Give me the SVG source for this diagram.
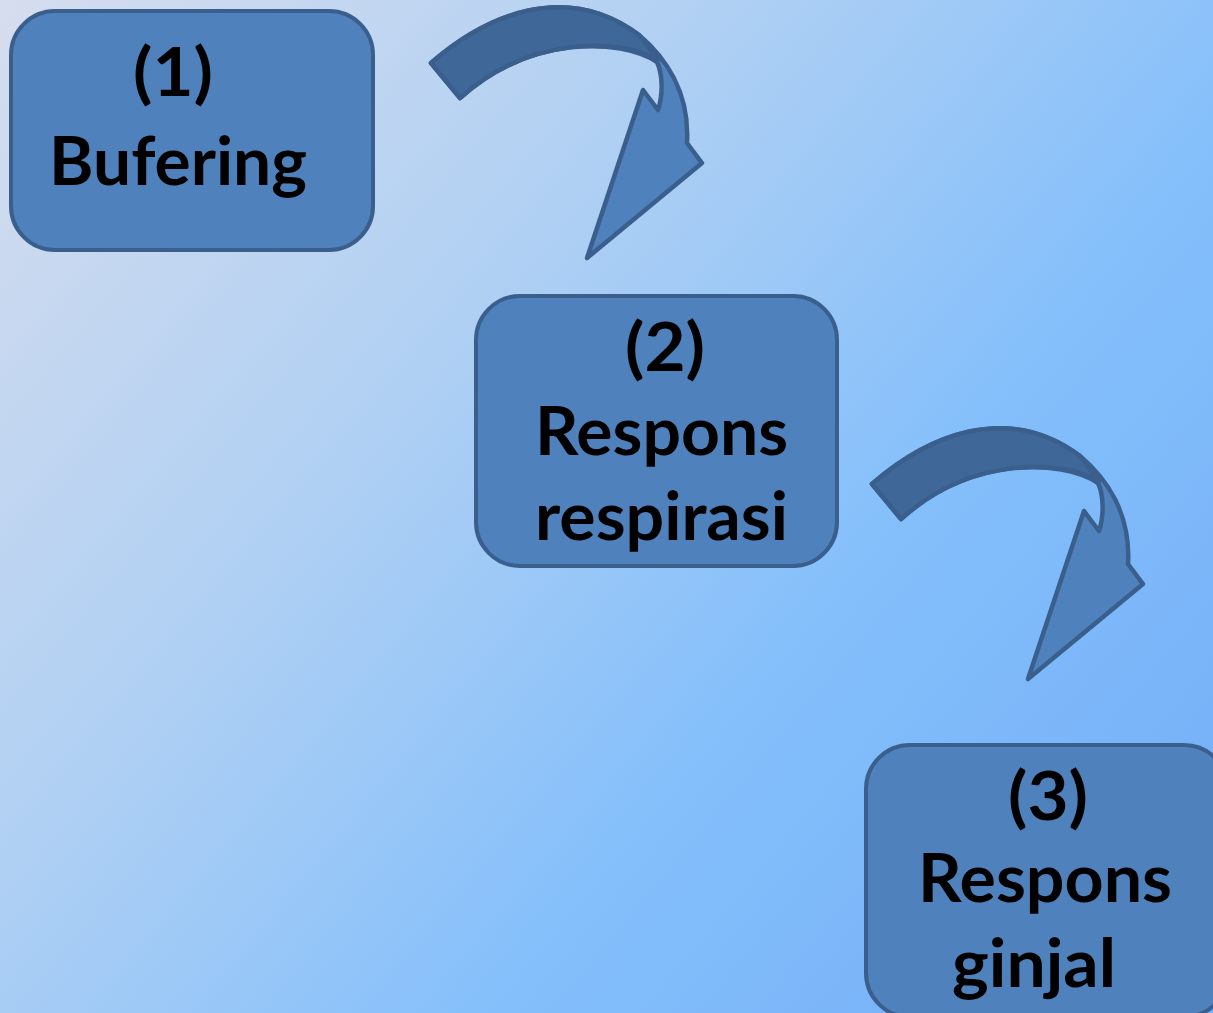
<svg xmlns="http://www.w3.org/2000/svg" width="1213" height="1013" viewBox="0 0 1213 1013">
<defs>
<linearGradient id="bg" x1="0" y1="0" x2="1213" y2="1013" gradientUnits="userSpaceOnUse">
<stop offset="0" stop-color="#d6ddee"/>
<stop offset="0.35" stop-color="#b0d0f3"/>
<stop offset="0.65" stop-color="#84bffb"/>
<stop offset="1" stop-color="#72acf7"/>
</linearGradient>
<g id="curvedArrow">
<path class="arrLight" d="M431,63 C485,16 565,-20 639,35 C665,57 690,92 687,143 L702,163 L587,258 L643,90 L658,110 C663,95 663,75 657,62 C620,38 530,35 460,98 Z"/>
<path class="arrDark" d="M431,63 C485,16 565,-20 639,35 L658,60 C620,38 530,35 460,98 Z"/>
</g>
</defs>
<style>
.box{fill:#4f81bd;stroke:#3a5f8c;stroke-width:4}
.arrLight{fill:#4f81bd;stroke:#3a5f8c;stroke-width:4.5;stroke-linejoin:round}
.arrDark{fill:#3f6899;stroke:#3a5f8c;stroke-width:4.5;stroke-linejoin:round}
.t{font-family:Lato,"Liberation Sans",sans-serif;font-weight:bold;font-size:66px;fill:#000}
</style>
<rect x="0" y="0" width="1213" height="1013" fill="url(#bg)"/>
<g id="connectors">
<use href="#curvedArrow"/>
<use href="#curvedArrow" transform="translate(441,421)"/>
</g>
<g id="node1">
<rect class="box" x="11" y="11" width="362" height="239" rx="44"/>
<text class="t" x="133" y="96" textLength="80" lengthAdjust="spacingAndGlyphs">(1)</text>
<text class="t" x="49" y="185" textLength="258" lengthAdjust="spacingAndGlyphs">Bufering</text>
</g>
<g id="node2">
<rect class="box" x="476" y="296" width="361" height="270" rx="44"/>
<text class="t" x="625" y="371" textLength="80" lengthAdjust="spacingAndGlyphs">(2)</text>
<text class="t" x="535" y="455" textLength="253" lengthAdjust="spacingAndGlyphs">Respons</text>
<text class="t" x="535" y="540" textLength="253" lengthAdjust="spacingAndGlyphs">respirasi</text>
</g>
<g id="node3">
<rect class="box" x="866" y="745" width="362" height="272" rx="44"/>
<text class="t" x="1008" y="820" textLength="80" lengthAdjust="spacingAndGlyphs">(3)</text>
<text class="t" x="918" y="902" textLength="254" lengthAdjust="spacingAndGlyphs">Respons</text>
<text class="t" x="952" y="987" textLength="164" lengthAdjust="spacingAndGlyphs">ginjal</text>
</g>
</svg>
